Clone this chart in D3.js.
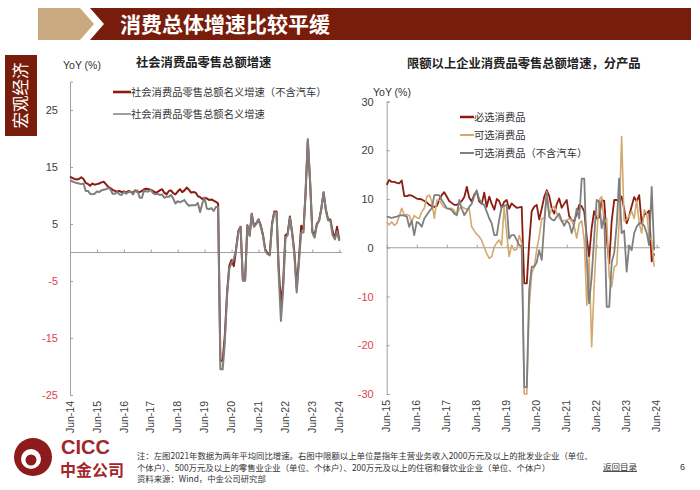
<!DOCTYPE html>
<html><head><meta charset="utf-8">
<script src="https://cdn.jsdelivr.net/npm/d3@7"></script>
<style>
body{margin:0;background:#fff;}
svg{display:block;}
</style>
</head><body>
<svg id="c" width="700" height="490"></svg>
<script>
// ---------------- DATA ----------------
const leftStart = new Date(2014, 5, 1);           // Jun 2014
const leftTickLabels = ["Jun-14","Jun-15","Jun-16","Jun-17","Jun-18","Jun-19","Jun-20","Jun-21","Jun-22","Jun-23","Jun-24"];
const leftYTicks = [25, 15, 5, -5, -15, -25];
const leftSeriesNames = ["社会消费品零售总额名义增速（不含汽车）", "社会消费品零售总额名义增速"];
// 社会消费品零售总额名义增速（不含汽车）, monthly from Jun-14
const retailExAuto = [
 13.3,13.1,12.9,12.8,12.9,13.2,12.9,
 12.2,12.0,11.7,12.1,11.9,12.0,12.1,12.3,12.4,12.0,11.5,11.3,
 11.0,10.8,10.7,10.8,10.6,10.7,10.5,10.8,10.6,10.5,10.9,10.6,
 10.6,10.8,11.1,11.2,11.1,11.0,10.8,10.5,10.6,10.9,11.1,10.5,
 10.2,10.8,10.9,10.4,10.2,10.7,11.1,10.6,10.9,11.4,11.0,10.5,
 10.6,10.5,9.9,9.7,9.4,9.6,9.5,9.2,9.3,9.1,8.9,8.6,
 -19.0,-19.0,-14.6,-7.0,-2.3,-1.3,-2.4,0.6,3.8,4.5,-4.9,-4.9,
 4.8,3.0,6.8,4.6,5.1,5.8,4.8,3.1,0.5,-0.1,-0.3,5.0,
 7.2,7.2,-2.5,-9.0,-5.5,3.0,3.3,6.3,3.5,0.0,-6.2,-1.2,
 4.7,4.0,10.2,19.6,12.6,3.8,2.8,5.0,5.6,7.7,10.5,7.6,
 5.8,5.8,3.8,2.4,4.5,2.2
];
// 社会消费品零售总额名义增速, monthly from Jun-14
const retailTotal = [
 12.7,12.5,12.3,12.2,12.1,12.0,12.1,
 10.8,10.8,10.3,10.2,10.3,10.7,10.6,10.9,11.0,11.1,11.3,11.1,
 10.3,10.3,10.6,10.2,10.1,10.6,10.3,10.6,10.7,10.2,10.8,10.9,
 9.6,9.6,10.9,10.7,10.7,11.0,10.4,10.2,10.3,10.1,10.2,9.6,
 9.8,9.8,10.1,9.5,8.6,9.0,8.8,9.0,9.2,8.6,8.2,8.3,
 8.3,8.3,8.7,7.1,8.6,9.6,7.7,7.6,7.8,7.3,8.0,8.0,
 -20.5,-20.5,-15.8,-7.5,-2.8,-1.8,-1.1,0.5,3.6,4.4,-4.9,-4.9,
 4.7,2.9,6.7,4.5,5.0,5.8,4.5,2.9,0.3,-0.3,-0.5,4.7,
 7.0,7.0,-3.5,-12.0,-6.7,2.6,3.0,6.1,3.2,-0.5,-7.0,-1.8,
 3.5,3.5,10.6,19.9,12.7,3.5,2.6,4.8,5.6,7.6,10.6,7.4,
 5.6,5.6,3.1,2.3,3.7,2.0
];

const rightStart = new Date(2015, 5, 1);          // Jun 2015
const rightTickLabels = ["Jun-15","Jun-16","Jun-17","Jun-18","Jun-19","Jun-20","Jun-21","Jun-22","Jun-23","Jun-24"];
const rightYTicks = [30, 20, 10, 0, -10, -20, -30];
const rightSeriesNames = ["必选消费品", "可选消费品", "可选消费品（不含汽车）"];
const essential = [
 12.9,13.9,13.5,13.5,13.3,13.2,13.8,10.6,10.6,10.8,
 10.7,10.4,10.1,10.0,9.9,9.6,9.3,8.8,8.5,8.4,
 8.6,9.8,10.8,11.4,10.5,9.6,9.2,8.8,8.8,9.1,
 9.6,10.4,12.5,10.3,9.5,10.8,11.6,9.5,9.0,11.3,
 8.4,10.5,9.0,7.8,10.0,9.6,8.2,9.4,9.8,8.0,
 9.1,8.6,8.2,8.3,8.4,-7.3,-7.3,1.0,7.5,8.4,
 8.8,5.8,8.0,10.5,11.8,10.6,8.0,7.0,9.0,10.1,
 8.2,9.0,9.8,6.5,5.6,5.5,7.0,8.8,8.5,7.4,
 2.0,-1.8,4.0,7.5,6.0,6.2,9.8,9.6,2.0,-3.2,
 5.5,9.8,9.8,9.6,10.5,8.0,5.0,6.5,8.5,10.4,
 9.5,10.8,5.0,6.8,7.1,7.6,-2.8,-1.2
];
const optional = [
 5.3,4.7,5.3,4.6,5.0,6.5,8.1,6.7,6.8,6.6,
 5.3,6.6,6.2,6.0,7.4,8.1,10.5,10.8,9.5,6.0,
 9.8,9.8,9.0,8.3,8.1,8.0,8.1,7.6,6.6,8.0,
 8.4,8.1,7.9,8.1,4.3,3.5,2.8,2.3,1.5,0.1,
 -1.2,-2.2,-1.8,0.2,1.0,1.6,0.5,8.4,3.0,-1.8,
 0.5,-0.5,-0.3,2.5,1.0,-30.0,-30.0,-12.1,-5.3,-3.9,
 -0.5,2.3,6.0,6.0,11.5,6.5,8.0,8.5,7.0,6.2,
 5.3,5.6,5.6,6.0,5.6,4.3,2.0,5.0,5.5,1.5,
 -11.8,-2.0,-20.3,-8.0,2.0,9.8,10.5,5.0,6.0,-6.0,
 -8.0,-3.9,-3.5,5.0,22.8,5.5,5.8,6.5,7.5,6.0,
 9.8,5.0,3.0,7.8,7.0,2.3,1.5,-3.9
];
const optionalExAuto = [
 6.4,6.3,6.1,6.3,6.4,6.6,6.7,6.6,6.4,4.3,
 5.5,2.6,5.3,5.0,4.3,6.0,6.7,7.5,8.1,10.8,
 10.8,10.8,9.8,9.0,8.1,8.0,7.7,7.0,6.7,9.8,
 8.0,6.7,7.5,8.4,9.0,10.5,11.8,10.0,9.1,8.8,
 7.4,6.0,5.0,2.6,2.6,5.7,8.4,8.6,8.8,1.9,
 2.6,2.6,1.6,0.5,0.3,-28.6,-28.6,-8.7,-3.9,-3.9,
 -3.0,-0.5,-2.5,5.0,11.2,6.4,5.8,5.6,6.4,7.0,
 5.6,4.5,5.5,5.0,3.0,5.0,8.0,6.0,14.2,14.2,
 -2.5,-11.4,-6.0,2.0,9.8,9.5,4.0,6.5,-12.1,-12.1,
 -3.0,-1.0,5.0,14.2,3.0,3.5,-4.9,0.5,-0.5,3.0,
 4.3,5.0,5.0,4.5,3.0,0.5,12.5,-0.5
];

// ---------------- STYLE ----------------
const RED = "#8a1c10", GRAY = "#7f7f7f", TAN = "#d2a96e";
const DARK = "#781d0c";
const CJK = "'Noto Sans CJK SC','Noto Sans',sans-serif";
const LAT = "'Liberation Sans',Arial,sans-serif";
const NEG = "#e0424e";
const AXIS = "#a0a0a0";

const svg = d3.select("#c");

// ---------------- HEADER ----------------
svg.append("polygon").attr("points", "38,8 80,8 94,24 80,40 38,40").attr("fill", "#c9aa80");
svg.append("polygon").attr("points", "90,8 691,8 691,40 90,40 104,24").attr("fill", DARK);
svg.append("text").attr("x", 120).attr("y", 32).attr("fill", "#fff")
  .attr("font-family", CJK).attr("font-weight", "bold").attr("font-size", 21)
  .text("消费总体增速比较平缓");

// side tab
svg.append("rect").attr("x", 5).attr("y", 55).attr("width", 32).attr("height", 81).attr("fill", DARK);
svg.append("text").attr("transform", "translate(21,95.5) rotate(-90)")
  .attr("text-anchor", "middle").attr("dy", "0.36em").attr("fill", "#fff")
  .attr("font-family", CJK).attr("font-size", 16.5).text("宏观经济");

// ---------------- helpers ----------------
function monthDates(start, n) {
  return d3.range(n).map(i => d3.timeMonth.offset(start, i));
}
function drawChart(cfg) {
  const g = svg.append("g");
  const x = d3.scaleTime().domain(cfg.xDomain).range(cfg.xRange);
  const y = d3.scaleLinear().domain(cfg.yDomain).range(cfg.yRange);
  // y axis
  const ya = d3.axisLeft(y).tickValues(cfg.yTicks).tickSize(-3).tickPadding(cfg.pad).tickFormat(d => d);
  const yg = g.append("g").attr("transform", `translate(${cfg.xRange[0]},0)`).call(ya);
  yg.select(".domain").attr("stroke", AXIS);
  yg.selectAll(".tick line").attr("stroke", AXIS);
  yg.selectAll(".tick text").attr("font-family", LAT).attr("font-size", 11)
    .attr("fill", d => d < 0 ? NEG : "#404040");
  // zero line with year ticks
  const tickDates = cfg.tickLabels.map((s, i) => d3.timeMonth.offset(cfg.xDomain[0], 12 * i));
  const xa = d3.axisTop(x).tickValues(tickDates).tickSize(3).tickFormat("");
  const xg = g.append("g").attr("transform", `translate(0,${y(0)})`).call(xa);
  xg.select(".domain").attr("stroke", AXIS).attr("d", `M${cfg.xRange[0]},0H${cfg.xEnd}`);
  xg.selectAll(".tick line").attr("stroke", AXIS);
  // rotated tick labels at bottom
  g.selectAll(".xl").data(tickDates).join("text")
    .attr("transform", (d) => `translate(${x(d)},${cfg.labelY}) rotate(-90)`)
    .attr("text-anchor", "end").attr("dy", "0.35em")
    .attr("font-family", LAT).attr("font-size", 10.5).attr("fill", "#404040")
    .text((d, i) => cfg.tickLabels[i]);
  // lines
  cfg.series.forEach(s => {
    const dates = monthDates(cfg.xDomain[0], s.values.length);
    const line = d3.line().defined(v => v != null).x((v, i) => x(dates[i])).y(v => y(v));
    g.append("path").datum(s.values).attr("d", line).attr("fill", "none")
      .attr("stroke", s.color).attr("stroke-width", s.width).attr("stroke-linejoin", "round");
  });
  return {x, y};
}

// ---------------- LEFT CHART ----------------
drawChart({
  xDomain: [leftStart, d3.timeMonth.offset(leftStart, 120)],
  xRange: [70, 339.3], xEnd: 342,
  yDomain: [-25, 30], yRange: [395, 81.5], yTicks: leftYTicks, pad: 12,
  tickLabels: leftTickLabels, labelY: 401,
  series: [
    {values: retailExAuto, color: RED, width: 2},
    {values: retailTotal, color: GRAY, width: 2}
  ]
});
svg.append("text").attr("x", 63).attr("y", 69).attr("font-family", LAT).attr("font-size", 10.5)
  .attr("fill", "#333").text("YoY (%)");
svg.append("text").attr("x", 136).attr("y", 67).attr("font-family", CJK).attr("font-weight", "bold")
  .attr("font-size", 12.3).attr("fill", "#222").text("社会消费品零售总额增速");
[{c: RED, w: 2.6}, {c: GRAY, w: 1.5}].forEach((d, i) => {
  const yy = 92 + i * 22;
  svg.append("line").attr("x1", 113).attr("x2", 131).attr("y1", yy).attr("y2", yy)
    .attr("stroke", d.c).attr("stroke-width", d.w);
  svg.append("text").attr("x", 131).attr("y", yy).attr("dy", "0.36em").attr("font-family", CJK)
    .attr("font-size", 10.3).attr("fill", "#333").text(leftSeriesNames[i]);
});

// ---------------- RIGHT CHART ----------------
drawChart({
  xDomain: [rightStart, d3.timeMonth.offset(rightStart, 108)],
  xRange: [386.7, 656.7], xEnd: 660,
  yDomain: [-30, 30], yRange: [394, 101.5], yTicks: rightYTicks, pad: 13,
  tickLabels: rightTickLabels, labelY: 400,
  series: [
    {values: essential, color: RED, width: 1.8},
    {values: optional, color: TAN, width: 1.6},
    {values: optionalExAuto, color: GRAY, width: 1.8}
  ]
});
svg.append("text").attr("x", 373).attr("y", 96).attr("font-family", LAT).attr("font-size", 10.5)
  .attr("fill", "#333").text("YoY (%)");
svg.append("text").attr("x", 407).attr("y", 68).attr("font-family", CJK).attr("font-weight", "bold")
  .attr("font-size", 12.3).attr("fill", "#222").text("限额以上企业消费品零售总额增速，分产品");
[{c: RED, w: 2.5}, {c: TAN, w: 2}, {c: GRAY, w: 2}].forEach((d, i) => {
  const yy = 117 + i * 18;
  svg.append("line").attr("x1", 460).attr("x2", 474).attr("y1", yy).attr("y2", yy)
    .attr("stroke", d.c).attr("stroke-width", d.w);
  svg.append("text").attr("x", 474).attr("y", yy).attr("dy", "0.36em").attr("font-family", CJK)
    .attr("font-size", 10.3).attr("fill", "#333").text(rightSeriesNames[i]);
});

// ---------------- FOOTER ----------------
const lg = svg.append("g").attr("transform", "translate(33,457)");
lg.append("circle").attr("r", 19).attr("fill", "#8e1b1b");
lg.append("path").attr("d", "M2,-19 A19,19 0 0 1 2,19 A14,14 0 0 0 2,-19Z").attr("fill", "#c9a063");
lg.append("circle").attr("cx", -2).attr("cy", 2).attr("r", 10).attr("fill", "#fff");
lg.append("circle").attr("cx", -2).attr("cy", 3).attr("r", 5.5).attr("fill", "#8e1b1b");
svg.append("text").attr("x", 61).attr("y", 454).attr("font-family", LAT).attr("font-weight", "bold")
  .attr("font-size", 20).attr("fill", "#a3262a").text("CICC");
svg.append("text").attr("x", 60).attr("y", 476).attr("font-family", CJK).attr("font-weight", "bold")
  .attr("font-size", 16).attr("fill", "#a3262a").text("中金公司");

const notes = [
  "注：左图2021年数据为两年平均同比增速。右图中限额以上单位是指年主营业务收入2000万元及以上的批发业企业（单位、",
  "个体户）、500万元及以上的零售业企业（单位、个体户）、200万元及以上的住宿和餐饮业企业（单位、个体户）",
  "资料来源：Wind，中金公司研究部"
];
notes.forEach((t, i) => {
  svg.append("text").attr("x", 137).attr("y", 459 + i * 11.5).attr("font-family", CJK)
    .attr("font-size", 8.4).attr("fill", "#333").text(t);
});
svg.append("text").attr("x", 603).attr("y", 470).attr("font-family", CJK).attr("font-size", 8.5)
  .attr("fill", "#333").attr("text-decoration", "underline").text("返回目录");
svg.append("text").attr("x", 680).attr("y", 470).attr("font-family", LAT).attr("font-size", 9)
  .attr("fill", "#333").text("6");
</script>
</body></html>
